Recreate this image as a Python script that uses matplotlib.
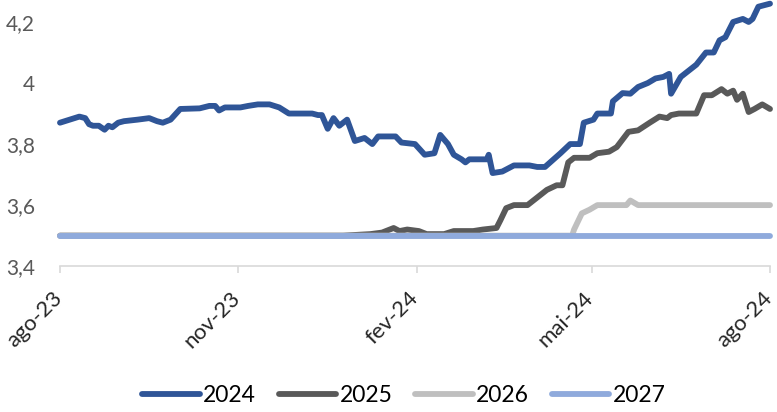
import matplotlib
matplotlib.use("Agg")
import matplotlib.pyplot as plt
import matplotlib.dates as mdates
import matplotlib.transforms as mtransforms
from matplotlib.ticker import FuncFormatter, FixedLocator
import pandas as pd

plt.rcParams['font.family'] = ['Lato', 'DejaVu Sans']

# ---- data ----
dates_2024 = ["2023-08-01","2023-08-06","2023-08-11","2023-08-14","2023-08-16","2023-08-18","2023-08-21",
              "2023-08-24","2023-08-26","2023-08-28","2023-08-31","2023-09-03","2023-09-10","2023-09-16",
              "2023-09-20","2023-09-23","2023-09-27","2023-10-02","2023-10-12","2023-10-17","2023-10-20",
              "2023-10-22","2023-10-25","2023-11-02","2023-11-06","2023-11-11","2023-11-17","2023-11-22",
              "2023-11-27","2023-12-09","2023-12-12","2023-12-14","2023-12-17","2023-12-20","2023-12-23",
              "2023-12-27","2023-12-31","2024-01-05","2024-01-09","2024-01-12","2024-01-21","2024-01-24",
              "2024-01-31","2024-02-05","2024-02-10","2024-02-13","2024-02-17","2024-02-20","2024-02-24",
              "2024-02-26","2024-02-28","2024-03-08","2024-03-09","2024-03-11","2024-03-16","2024-03-22",
              "2024-03-30","2024-04-03","2024-04-07","2024-04-15","2024-04-20","2024-04-25","2024-04-27",
              "2024-05-02","2024-05-04","2024-05-11","2024-05-12","2024-05-17","2024-05-21","2024-05-25",
              "2024-05-30","2024-06-03","2024-06-07","2024-06-10","2024-06-11","2024-06-16","2024-06-20",
              "2024-06-24","2024-06-29","2024-07-03","2024-07-06","2024-07-09","2024-07-13","2024-07-18",
              "2024-07-21","2024-07-23","2024-07-26","2024-08-01"]
values_2024 = [3.87,3.88,3.89,3.885,3.865,3.86,3.86,
               3.847,3.86,3.855,3.87,3.875,3.88,3.885,
               3.875,3.87,3.88,3.915,3.917,3.925,3.925,
               3.91,3.92,3.92,3.925,3.93,3.93,3.92,
               3.90,3.90,3.895,3.895,3.85,3.885,3.86,
               3.88,3.81,3.82,3.80,3.825,3.825,3.805,
               3.80,3.765,3.77,3.83,3.80,3.765,3.75,
               3.74,3.75,3.75,3.765,3.705,3.71,3.73,
               3.73,3.725,3.725,3.77,3.80,3.80,3.87,
               3.88,3.90,3.90,3.94,3.967,3.965,3.987,
               4.00,4.015,4.02,4.03,3.965,4.02,4.04,
               4.06,4.10,4.10,4.14,4.15,4.20,4.21,
               4.20,4.21,4.25,4.26]

dates_2025 = ["2023-08-01","2023-12-25","2024-01-08","2024-01-14","2024-01-18","2024-01-20","2024-01-23",
              "2024-01-27","2024-02-02","2024-02-06","2024-02-15","2024-02-20","2024-03-01","2024-03-06",
              "2024-03-13","2024-03-15","2024-03-18","2024-03-22","2024-03-29","2024-04-04","2024-04-08",
              "2024-04-13","2024-04-16","2024-04-19","2024-04-22","2024-04-30","2024-05-04","2024-05-10",
              "2024-05-14","2024-05-20","2024-05-25","2024-05-31","2024-06-05","2024-06-09","2024-06-11",
              "2024-06-15","2024-06-24","2024-06-28","2024-07-02","2024-07-07","2024-07-10","2024-07-13",
              "2024-07-15","2024-07-18","2024-07-21","2024-07-24","2024-07-28","2024-08-01"]
values_2025 = [3.50,3.50,3.505,3.51,3.52,3.525,3.515,
               3.52,3.515,3.505,3.505,3.515,3.515,3.52,
               3.525,3.55,3.59,3.60,3.60,3.63,3.65,
               3.665,3.665,3.74,3.755,3.755,3.77,3.775,
               3.79,3.84,3.845,3.87,3.89,3.885,3.895,
               3.90,3.90,3.96,3.96,3.98,3.965,3.975,
               3.945,3.965,3.905,3.915,3.93,3.915]

dates_2026 = ["2023-08-01","2024-04-21","2024-04-22","2024-04-26","2024-04-30","2024-05-04",
              "2024-05-19","2024-05-21","2024-05-25","2024-08-01"]
values_2026 = [3.50,3.50,3.52,3.573,3.585,3.60,3.60,3.615,3.60,3.60]

dates_2027 = ["2023-08-01","2024-08-01"]
values_2027 = [3.50,3.50]

series_names = ["2024", "2025", "2026", "2027"]
tick_dates = ["2023-08-01","2023-11-01","2024-02-01","2024-05-01","2024-08-01"]
tick_labels = ["ago-23","nov-23","fev-24","mai-24","ago-24"]
y_ticks = [3.4, 3.6, 3.8, 4.0, 4.2]

colors = ["#2F5597", "#595959", "#BFBFBF", "#8FAADC"]

fig = plt.figure(figsize=(7.77, 4.12), dpi=100)
ax = fig.add_axes([0.0772, 0.354, 0.9138, 0.646])

all_series = [(dates_2024, values_2024), (dates_2025, values_2025),
              (dates_2026, values_2026), (dates_2027, values_2027)]
for (d, v), name, c in zip(all_series, series_names, colors):
    ax.plot(pd.to_datetime(d), v, color=c, lw=4.2, label=name,
            solid_capstyle='round', solid_joinstyle='round', clip_on=False)

ax.set_xlim(pd.Timestamp("2023-08-01"), pd.Timestamp("2024-08-01"))
ax.set_ylim(3.4, 4.272)

ax.set_yticks(y_ticks)
ax.yaxis.set_major_formatter(FuncFormatter(lambda v, p: ('%g' % round(v, 2)).replace('.', ',')))
ax.tick_params(axis='y', length=0, pad=18, labelsize=15, labelcolor='#595959')

tx = mdates.date2num(pd.to_datetime(tick_dates))
ax.xaxis.set_major_locator(FixedLocator(tx))
ax.set_xticklabels(tick_labels)
ax.tick_params(axis='x', length=5, width=1.2, color='#D9D9D9', pad=19,
               labelsize=16, labelcolor='#262626')
shift = mtransforms.ScaledTranslation(3 / 100, 0, fig.dpi_scale_trans)
for lab in ax.get_xticklabels():
    lab.set_rotation(45)
    lab.set_ha('right')
    lab.set_va('baseline')
    lab.set_rotation_mode('anchor')
    lab.set_transform(lab.get_transform() + shift)

for s in ['top', 'right', 'left']:
    ax.spines[s].set_visible(False)
ax.spines['bottom'].set_color('#D9D9D9')
ax.spines['bottom'].set_linewidth(1.2)

fig.legend(loc='center', bbox_to_anchor=(0.52, 0.04), ncol=4, frameon=False,
           fontsize=16.5, handlelength=2.5, handletextpad=0.15, columnspacing=1.0)

fig.savefig("out.png", dpi=100)
